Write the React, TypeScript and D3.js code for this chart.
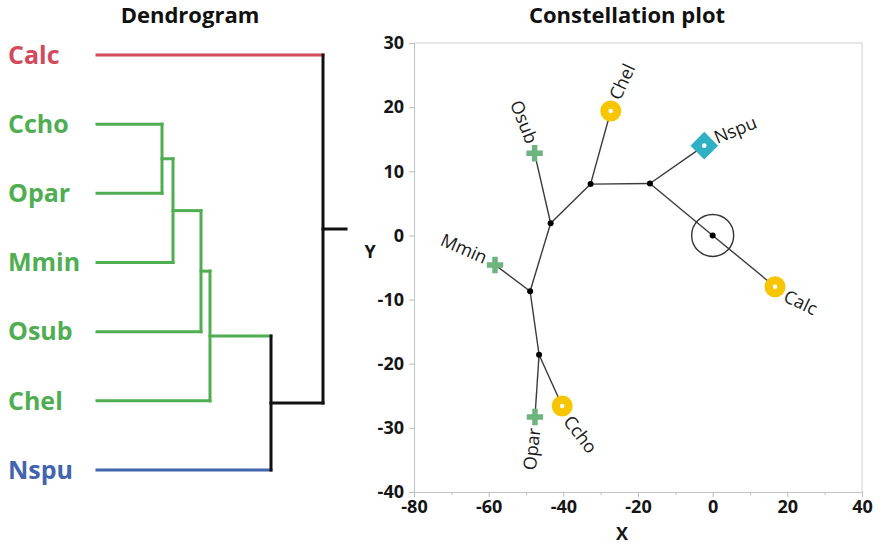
import { useCallback, useEffect, useRef } from 'react';

import * as d3 from 'd3';

// dendrogram leaves, top to bottom
const leafNames = ['Calc', 'Ccho', 'Opar', 'Mmin', 'Osub', 'Chel', 'Nspu'];
const leafColors = ['#d24a5c', '#4fae52', '#4fae52', '#4fae52', '#4fae52', '#4fae52', '#4364ae'];

// merges: left child, right child, joining distance
const mergeNames = ['g1', 'g2', 'g3', 'g4', 'g5', 'g6'];
const mergeLeft = ['Ccho', 'g1', 'g2', 'g3', 'g4', 'Calc'];
const mergeRight = ['Opar', 'Mmin', 'Osub', 'Chel', 'Nspu', 'g5'];
const mergeHeight = [65, 76, 104, 113, 174, 226];
const mergeColors = ['#4fae52', '#4fae52', '#4fae52', '#4fae52', '#111', '#111'];
const rootStub = 249;

// constellation plot: leaf points
const pointNames = ['Calc', 'Ccho', 'Opar', 'Mmin', 'Osub', 'Chel', 'Nspu'];
const pointX = [16.7, -40.3, -47.6, -58.3, -47.7, -27.3, -2.25];
const pointY = [-8.0, -26.6, -28.3, -4.6, 12.8, 19.4, 14.0];
const pointShapes = ['circle', 'circle', 'plus', 'plus', 'plus', 'circle', 'diamond'];

// constellation plot: joining nodes
const nodeNames = ['root', 'n3', 'n2', 'n1', 'n4', 'n5'];
const nodeX = [0, -16.8, -32.7, -43.4, -48.9, -46.5];
const nodeY = [0, 8.1, 8.0, 1.9, -8.7, -18.6];

const edgeFrom = ['root', 'root', 'n3', 'n3', 'n2', 'n2', 'n1', 'n1', 'n4', 'n4', 'n5', 'n5'];
const edgeTo = ['Calc', 'n3', 'Nspu', 'n2', 'Chel', 'n1', 'Osub', 'n4', 'Mmin', 'n5', 'Opar', 'Ccho'];

const xTicks = [-80, -60, -40, -20, 0, 20, 40];
const xMinorTicks = [-70, -50, -30, -10, 10, 30];
const yTicks = [-40, -30, -20, -10, 0, 10, 20, 30];

const FONT = '"Open Sans", "DejaVu Sans", sans-serif';

export default function App() {
  const containerRef = useRef<HTMLDivElement>(null);

  const draw = useCallback(() => {
    const container = containerRef.current;
    if (!container) return;

    const div = d3.select(container);
    div.select('svg').remove();

    const svg = div
      .append('svg')
      .attr('width', 880)
      .attr('height', 545)
      .style('position', 'absolute')
      .style('left', 0)
      .style('top', 0)
      .style('background', 'white')
      .attr('font-family', FONT);

    // ---------- dendrogram ----------
    const hx = d3.scaleLinear().domain([0, 250]).range([97, 347]);
    const ly = d3.scalePoint<string>().domain(leafNames).range([55, 470]);

    const posY = new Map<string, number>();
    const height = new Map<string, number>();
    const color = new Map<string, string>();
    leafNames.forEach((n, i) => {
      posY.set(n, ly(n)!);
      height.set(n, 0);
      color.set(n, leafColors[i]);
    });
    mergeNames.forEach((n, i) => {
      posY.set(n, (posY.get(mergeLeft[i])! + posY.get(mergeRight[i])!) / 2);
      height.set(n, mergeHeight[i]);
      color.set(n, mergeColors[i]);
    });

    svg
      .append('text')
      .attr('x', 190)
      .attr('y', 23)
      .attr('text-anchor', 'middle')
      .attr('font-size', 22)
      .attr('font-weight', 700)
      .attr('fill', '#111')
      .text('Dendrogram');

    const dendro = svg
      .append('g')
      .attr('fill', 'none')
      .attr('stroke-width', 3)
      .attr('stroke-linecap', 'square');

    mergeNames.forEach((m, i) => {
      const hm = hx(height.get(m)!);
      [mergeLeft[i], mergeRight[i]].forEach((c) => {
        dendro
          .append('line')
          .attr('x1', hx(height.get(c)!))
          .attr('x2', hm)
          .attr('y1', posY.get(c)!)
          .attr('y2', posY.get(c)!)
          .attr('stroke', color.get(c)!);
      });
      dendro
        .append('line')
        .attr('x1', hm)
        .attr('x2', hm)
        .attr('y1', posY.get(mergeLeft[i])!)
        .attr('y2', posY.get(mergeRight[i])!)
        .attr('stroke', mergeColors[i]);
    });
    const top = mergeNames[mergeNames.length - 1];
    dendro
      .append('line')
      .attr('x1', hx(height.get(top)!))
      .attr('x2', hx(rootStub))
      .attr('y1', posY.get(top)!)
      .attr('y2', posY.get(top)!)
      .attr('stroke', '#111');

    svg
      .append('g')
      .attr('font-size', 25)
      .attr('font-weight', 700)
      .selectAll('text')
      .data(leafNames)
      .join('text')
      .attr('x', 8)
      .attr('y', (d) => posY.get(d)!)
      .attr('dy', '0.35em')
      .attr('fill', (d, i) => leafColors[i])
      .text((d) => d);

    // ---------- constellation plot ----------
    const left = 414,
      right = 862,
      plotTop = 43,
      bottom = 492;
    const x = d3.scaleLinear().domain([-80, 40]).range([left, right]);
    const y = d3.scaleLinear().domain([-40, 30]).range([bottom, plotTop]);

    svg
      .append('text')
      .attr('x', 627)
      .attr('y', 23)
      .attr('text-anchor', 'middle')
      .attr('font-size', 22)
      .attr('font-weight', 700)
      .attr('fill', '#111')
      .text('Constellation plot');

    // frame
    svg
      .append('path')
      .attr('d', `M${left},${plotTop}H${right}V${bottom}`)
      .attr('fill', 'none')
      .attr('stroke', '#cfcfcf')
      .attr('stroke-width', 1);

    const fmt = (d: d3.NumberValue) => String(d);

    const xAxis = svg
      .append('g')
      .attr('transform', `translate(0,${bottom})`)
      .call(d3.axisBottom(x).tickValues(xTicks).tickSize(5).tickPadding(3).tickFormat(fmt));
    svg
      .append('g')
      .attr('transform', `translate(0,${bottom})`)
      .call(d3.axisBottom(x).tickValues(xMinorTicks).tickSize(3).tickFormat(() => ''))
      .call((g) => g.select('.domain').remove())
      .selectAll('line')
      .attr('stroke', '#bdbdbd');

    const yAxis = svg
      .append('g')
      .attr('transform', `translate(${left},0)`)
      .call(d3.axisLeft(y).tickValues(yTicks).tickSize(5).tickPadding(5).tickFormat(fmt));

    [xAxis, yAxis].forEach((g) => {
      g.select('.domain').attr('stroke', '#c4c4c4');
      g.selectAll('.tick line').attr('stroke', '#bdbdbd');
      g.selectAll('.tick text')
        .attr('font-family', FONT)
        .attr('font-size', 18)
        .attr('font-weight', 700)
        .attr('fill', '#151515');
    });

    svg
      .append('text')
      .attr('x', 622)
      .attr('y', 540)
      .attr('text-anchor', 'middle')
      .attr('font-size', 18)
      .attr('font-weight', 700)
      .attr('fill', '#151515')
      .text('X');
    svg
      .append('text')
      .attr('x', 370)
      .attr('y', 258)
      .attr('text-anchor', 'middle')
      .attr('font-size', 18)
      .attr('font-weight', 700)
      .attr('fill', '#151515')
      .text('Y');

    const loc = new Map<string, [number, number]>();
    pointNames.forEach((n, i) => loc.set(n, [pointX[i], pointY[i]]));
    nodeNames.forEach((n, i) => loc.set(n, [nodeX[i], nodeY[i]]));

    const plot = svg.append('g');

    // branches
    plot
      .selectAll('line.edge')
      .data(edgeFrom.map((f, i) => [f, edgeTo[i]]))
      .join('line')
      .attr('class', 'edge')
      .attr('x1', (d) => x(loc.get(d[0])![0]))
      .attr('y1', (d) => y(loc.get(d[0])![1]))
      .attr('x2', (d) => x(loc.get(d[1])![0]))
      .attr('y2', (d) => y(loc.get(d[1])![1]))
      .attr('stroke', '#3a3a3a')
      .attr('stroke-width', 1.4);

    // root circle
    plot
      .append('circle')
      .attr('cx', x(nodeX[0]))
      .attr('cy', y(nodeY[0]))
      .attr('r', 21)
      .attr('fill', 'none')
      .attr('stroke', '#333')
      .attr('stroke-width', 1.4);

    // joining nodes
    plot
      .selectAll('circle.node')
      .data(nodeNames)
      .join('circle')
      .attr('class', 'node')
      .attr('cx', (d, i) => x(nodeX[i]))
      .attr('cy', (d, i) => y(nodeY[i]))
      .attr('r', 3)
      .attr('fill', '#000');

    // leaf markers
    const cross = d3.symbol().type(d3.symbolCross).size(150);
    const square = d3.symbol().type(d3.symbolSquare).size(380);
    pointNames.forEach((n, i) => {
      const cx = x(pointX[i]),
        cy = y(pointY[i]);
      const g = plot.append('g').attr('transform', `translate(${cx},${cy})`);
      if (pointShapes[i] === 'circle') {
        g.append('circle').attr('r', 10.5).attr('fill', '#f7c600');
        g.append('circle').attr('r', 2.3).attr('fill', '#fff');
      } else if (pointShapes[i] === 'plus') {
        g.append('path').attr('d', cross()!).attr('fill', '#6db57f');
      } else {
        g.append('path').attr('d', square()!).attr('transform', 'rotate(45)').attr('fill', '#2eb1c4');
        g.append('circle').attr('r', 2.3).attr('fill', '#fff');
      }
    });

    // leaf labels, oriented along the incoming branch
    pointNames.forEach((n, i) => {
      const parent = edgeFrom[edgeTo.indexOf(n)];
      const [px, py] = loc.get(parent)!;
      const dx = pointX[i] - px,
        dy = pointY[i] - py;
      const ang = Math.atan2(-dy, dx); // data-space angle, screen orientation
      const sdx = x(pointX[i]) - x(px),
        sdy = y(pointY[i]) - y(py);
      const len = Math.hypot(sdx, sdy);
      const off = pointShapes[i] === 'plus' ? 11 : 13;
      const tx = x(pointX[i]) + (sdx / len) * off,
        ty = y(pointY[i]) + (sdy / len) * off;
      let deg = (ang * 180) / Math.PI;
      let anchor = 'start';
      if (dx < 0) {
        deg += 180;
        anchor = 'end';
      }
      plot
        .append('text')
        .attr('transform', `translate(${tx},${ty}) rotate(${deg})`)
        .attr('text-anchor', anchor)
        .attr('dy', '0.35em')
        .attr('font-size', 18)
        .attr('fill', '#1a1a1a')
        .text(n);
    });
  }, []);

  useEffect(() => {
    draw();
    const container = containerRef.current;
    return () => {
      if (container) d3.select(container).select('svg').remove();
    };
  }, [draw]);

  return <div ref={containerRef} />;
}
